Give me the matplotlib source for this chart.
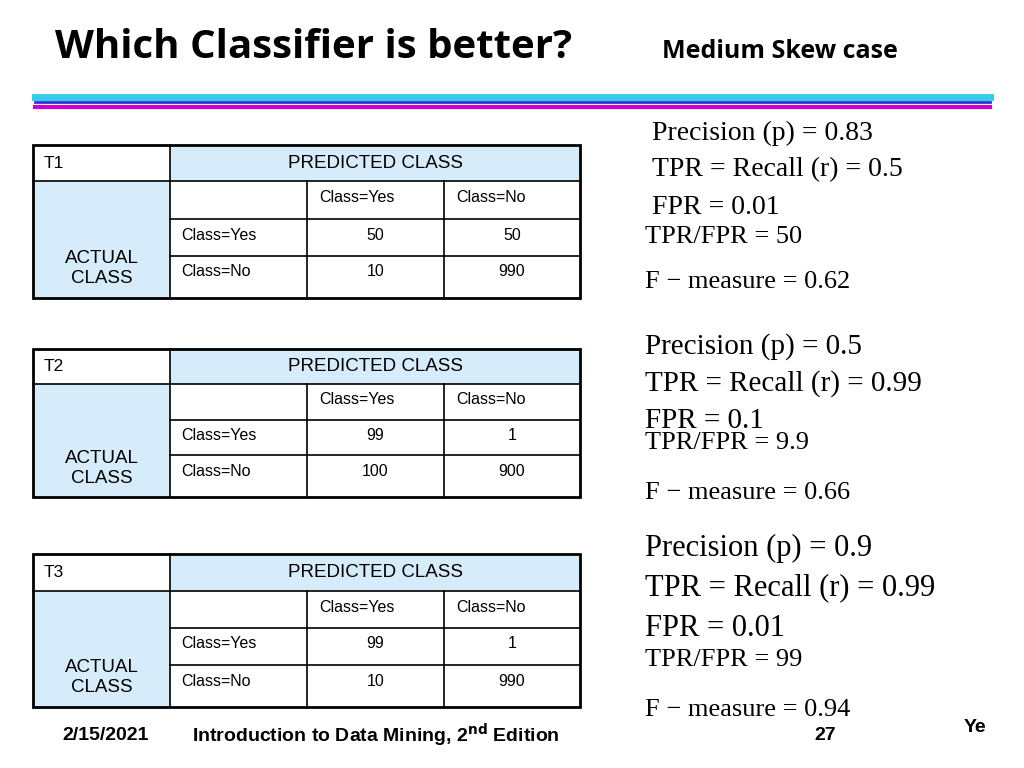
import matplotlib
matplotlib.use("Agg")
import matplotlib.pyplot as plt
from matplotlib.patches import Rectangle

table_names = ["T1", "T2", "T3"]
tp = [50, 99, 99]
fn = [50, 1, 1]
fp = [10, 100, 10]
tn = [990, 900, 990]
precision = ["0.83", "0.5", "0.9"]
recall = ["0.5", "0.99", "0.99"]
fpr = ["0.01", "0.1", "0.01"]
tpr_fpr = ["50", "9.9", "99"]
fmeasure = ["0.62", "0.66", "0.94"]

fig = plt.figure(figsize=(10.24, 7.68), dpi=100)
ax = fig.add_axes([0, 0, 1, 1])
ax.set_xlim(0, 1024); ax.set_ylim(768, 0); ax.axis("off")

ax.text(55, 47, "Which Classifier is better?", fontsize=29, fontweight="bold", va="center", family="Open Sans")
ax.text(662, 52, "Medium Skew case", fontsize=18, fontweight="bold", va="center", family="Open Sans")
ax.plot([35, 990], [97, 97], color="#33ccee", lw=5)
ax.plot([35, 990], [102, 102], color="#3333cc", lw=2)
ax.plot([35, 990], [107, 107], color="#cc00cc", lw=3)

light = "#d6ecfb"
xs = [33, 170, 307, 444, 580]
table_rows = [[145, 181, 219, 256, 298], [349, 384, 420, 455, 497], [554, 591, 628, 665, 707]]
fs = 12.5
for i, ys in enumerate(table_rows):
    ax.add_patch(Rectangle((xs[1], ys[0]), xs[4]-xs[1], ys[1]-ys[0], color=light, lw=0))
    ax.add_patch(Rectangle((xs[0], ys[1]), xs[1]-xs[0], ys[4]-ys[1], color=light, lw=0))
    ax.add_patch(Rectangle((xs[0], ys[0]), xs[4]-xs[0], ys[4]-ys[0], fill=False, ec="black", lw=2))
    ax.plot([xs[1], xs[1]], [ys[0], ys[4]], color="black", lw=1.2)
    ax.plot([xs[0], xs[4]], [ys[1], ys[1]], color="black", lw=1.2)
    for y in ys[2:4]:
        ax.plot([xs[1], xs[4]], [y, y], color="black", lw=1.2)
    for x in xs[2:4]:
        ax.plot([x, x], [ys[1], ys[4]], color="black", lw=1.2)
    ax.text(44, (ys[0]+ys[1])/2, table_names[i], fontsize=fs, va="center", family="Liberation Sans")
    ax.text(375, (ys[0]+ys[1])/2, "PREDICTED CLASS", fontsize=fs+1, va="center", ha="center", family="Liberation Sans")
    ax.text(102, (ys[2]+ys[4])/2+10, "ACTUAL\nCLASS", fontsize=fs+1, va="center", ha="center", family="Liberation Sans", linespacing=1.3)
    ax.text(357, ys[1]+16, "Class=Yes", fontsize=11.5, va="center", ha="center", family="Liberation Sans")
    ax.text(491, ys[1]+16, "Class=No", fontsize=11.5, va="center", ha="center", family="Liberation Sans")
    ax.text(181, ys[2]+16, "Class=Yes", fontsize=11.5, va="center", family="Liberation Sans")
    ax.text(181, ys[3]+16, "Class=No", fontsize=11.5, va="center", family="Liberation Sans")
    for (r, c, v) in [(2, 0, tp[i]), (2, 1, fn[i]), (3, 0, fp[i]), (3, 1, tn[i])]:
        ax.text((xs[2+c]+xs[3+c])/2, ys[r]+16, str(v), fontsize=11.5, va="center", ha="center", family="Liberation Sans")

metric_pos = [
    [(652, 133), (652, 170), (652, 207), (645, 237), (645, 282)],
    [(645, 347), (645, 384), (645, 421), (645, 443), (645, 493)],
    [(645, 548), (645, 588), (645, 628), (645, 660), (645, 710)],
]
big = [20, 21, 22]
small = [19, 19, 19]
for i in range(3):
    lines = [f"Precision (p) = {precision[i]}", f"TPR = Recall (r) = {recall[i]}",
             f"FPR = {fpr[i]}", f"TPR/FPR = {tpr_fpr[i]}", f"F \u2212 measure = {fmeasure[i]}"]
    for k, ((x, y), t) in enumerate(zip(metric_pos[i], lines)):
        s = big[i] if k < 3 else small[i]
        ax.text(x, y, t, fontsize=s, va="center", family="Liberation Serif")

ax.text(62, 735, "2/15/2021", fontsize=14, fontweight="bold", va="center", family="Liberation Sans")
ax.text(192, 735, r"Introduction to Data Mining, 2$^{\mathbf{nd}}$ Edition", fontsize=14, fontweight="bold", va="center", family="Liberation Sans")
ax.text(825, 735, "27", fontsize=14, fontweight="bold", va="center", ha="center", family="Liberation Sans")
ax.text(975, 727, "Ye", fontsize=14, fontweight="bold", va="center", ha="center", family="Liberation Sans")

fig.savefig("out.png", dpi=100)
